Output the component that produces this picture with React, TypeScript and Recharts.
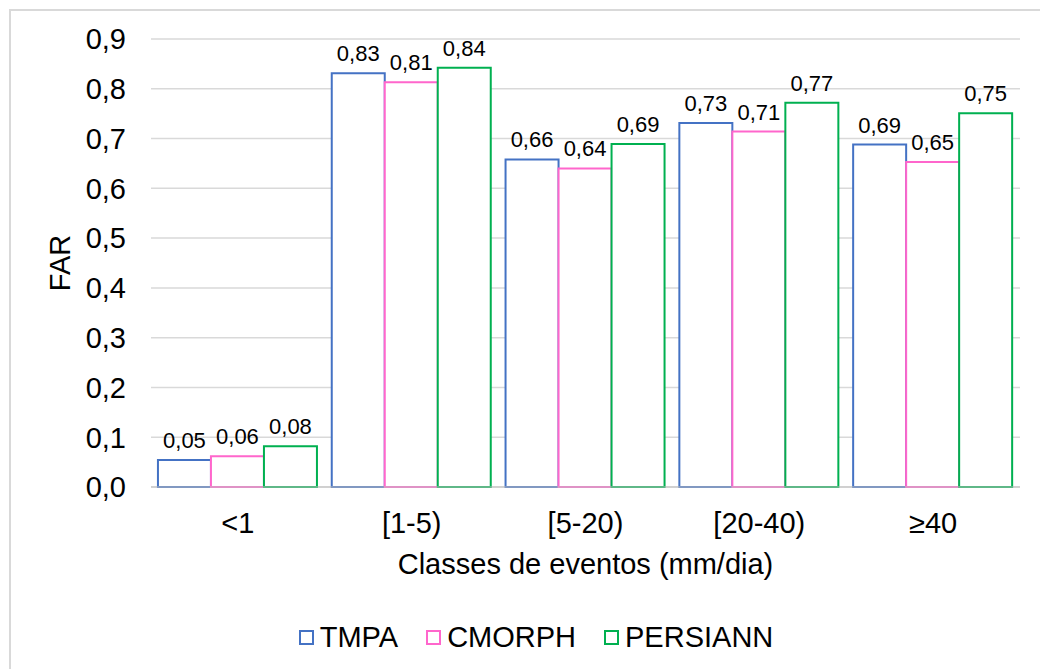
import { BarChart, Bar, XAxis, YAxis, CartesianGrid, Legend, LabelList } from 'recharts'

const categories = ['<1', '[1-5)', '[5-20)', '[20-40)', '≥40']
const tmpa = [0.054, 0.831, 0.658, 0.731, 0.688]
const cmorph = [0.062, 0.813, 0.64, 0.714, 0.653]
const persiann = [0.082, 0.842, 0.689, 0.772, 0.751]
const yTicks = [0, 0.1, 0.2, 0.3, 0.4, 0.5, 0.6, 0.7, 0.8, 0.9]

const series = [
  { key: 'TMPA', color: '#4472C4' },
  { key: 'CMORPH', color: '#FF66CC' },
  { key: 'PERSIANN', color: '#00B050' },
]

const data = categories.map((c, i) => ({
  name: c,
  TMPA: tmpa[i],
  CMORPH: cmorph[i],
  PERSIANN: persiann[i],
}))

const font = '"Liberation Sans", Arial, sans-serif'

function fmt1(v: number) {
  return v.toFixed(1).replace('.', ',')
}

function fmt2(v: number) {
  return Number(v).toFixed(2).replace('.', ',')
}

function LegendBox() {
  return (
    <div
      style={{
        display: 'flex',
        justifyContent: 'center',
        alignItems: 'center',
        height: 30,
        position: 'relative',
        left: 26,
        fontFamily: font,
        fontSize: 29,
        color: '#000',
      }}
    >
      {series.map(s => (
        <div key={s.key} style={{ display: 'flex', alignItems: 'center', margin: '0 14px' }}>
          <span
            style={{
              display: 'inline-block',
              width: 11,
              height: 11,
              border: `2px solid ${s.color}`,
              marginRight: 6,
            }}
          />
          <span>{s.key}</span>
        </div>
      ))}
    </div>
  )
}

export default function App() {
  return (
    <div style={{ position: 'absolute', left: 0, top: 0, width: 1040, height: 669, background: '#fff' }}>
      <div
        style={{
          position: 'absolute',
          left: 9,
          top: 9,
          width: 1040,
          height: 669,
          border: '2px solid #D9D9D9',
        }}
      />
      <BarChart
        width={1040}
        height={669}
        data={data}
        margin={{ top: 39, right: 20, left: 0, bottom: 17 }}
        barGap={0}
        barCategoryGap="4%"
        style={{ fontFamily: font }}
      >
        <CartesianGrid vertical={false} stroke="#D9D9D9" strokeWidth={1.5} />
        <XAxis
          dataKey="name"
          height={135}
          tickLine={false}
          tickSize={0}
          tickMargin={25}
          stroke="#BFBFBF"
          tick={{ fill: '#000', fontSize: 29 }}
          label={{
            value: 'Classes de eventos (mm/dia)',
            position: 'insideBottom',
            offset: 48,
            style: { fill: '#000', fontSize: 29 },
          }}
        />
        <YAxis
          width={151}
          domain={[0, 0.9]}
          ticks={yTicks}
          tickFormatter={fmt1}
          axisLine={false}
          tickLine={false}
          tickSize={0}
          tickMargin={25}
          tick={{ fill: '#000', fontSize: 29 }}
          label={{
            value: 'FAR',
            angle: -90,
            position: 'insideLeft',
            offset: 60,
            style: { fill: '#000', fontSize: 29, textAnchor: 'middle' },
          }}
        />
        <Legend verticalAlign="bottom" content={<LegendBox />} />
        {series.map(s => (
          <Bar
            key={s.key}
            dataKey={s.key}
            fill="#fff"
            stroke={s.color}
            strokeWidth={2}
            isAnimationActive={false}
          >
            <LabelList
              dataKey={s.key}
              position="top"
              offset={12}
              formatter={(v: any) => fmt2(v)}
              style={{ fill: '#000', fontSize: 22 }}
            />
          </Bar>
        ))}
      </BarChart>
    </div>
  )
}
